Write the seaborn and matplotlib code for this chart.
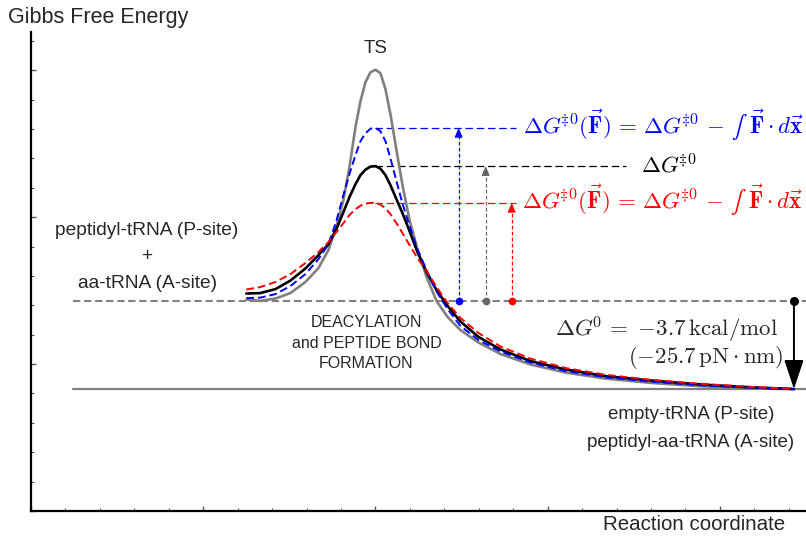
import matplotlib
matplotlib.use("Agg")
import matplotlib.pyplot as plt
from matplotlib.ticker import MultipleLocator
import seaborn as sns

# ---------------- data ----------------
reaction_coord = [1.250, 1.331, 1.419, 1.506, 1.593, 1.669, 1.727, 1.773, 1.814, 1.849,
                  1.884, 1.913, 1.942, 1.971, 2.000, 2.029, 2.058, 2.087, 2.122, 2.157,
                  2.198, 2.244, 2.297, 2.355, 2.419, 2.494, 2.599, 2.727, 2.901, 3.105,
                  3.337, 3.599, 3.890, 4.180, 4.430]

g_gray = [1.439, 1.430, 1.446, 1.483, 1.558, 1.653, 1.776, 1.935, 2.116, 2.340,
          2.612, 2.789, 2.918, 2.986, 3.003, 2.980, 2.871, 2.701, 2.456, 2.218,
          1.980, 1.782, 1.592, 1.429, 1.320, 1.231, 1.146, 1.068, 0.997, 0.942,
          0.901, 0.872, 0.849, 0.835, 0.830]

g_black = [1.480, 1.483, 1.510, 1.568, 1.650, 1.741, 1.816, 1.918, 2.034, 2.136,
           2.224, 2.286, 2.323, 2.344, 2.347, 2.330, 2.286, 2.218, 2.122, 2.027,
           1.905, 1.762, 1.626, 1.503, 1.395, 1.289, 1.184, 1.099, 1.020, 0.963,
           0.918, 0.888, 0.861, 0.842, 0.830]

g_blue = [1.449, 1.452, 1.476, 1.531, 1.612, 1.714, 1.816, 1.973, 2.150, 2.293,
          2.422, 2.517, 2.571, 2.602, 2.607, 2.585, 2.517, 2.401, 2.245, 2.092,
          1.939, 1.782, 1.639, 1.493, 1.374, 1.259, 1.163, 1.085, 1.010, 0.952,
          0.910, 0.880, 0.855, 0.839, 0.830]

g_red = [1.507, 1.524, 1.558, 1.612, 1.687, 1.762, 1.830, 1.898, 1.959, 2.014,
         2.054, 2.078, 2.092, 2.097, 2.097, 2.085, 2.061, 2.020, 1.959, 1.891,
         1.810, 1.721, 1.633, 1.524, 1.415, 1.313, 1.211, 1.119, 1.037, 0.973,
         0.927, 0.893, 0.865, 0.845, 0.830]

reactant_level = 1.432
product_level = 0.830
level_x = [0.244, 4.5]

ts_x = 2.0
peak_blue = max(g_blue)
peak_black = max(g_black)
peak_red = max(g_red)

formula = (r'$\Delta G^{\!\!\ddagger\!0}(\vec{\mathbf{F}}) \,=\, \Delta G^{\!\!\ddagger\!0}'
           '\\,-\\, \u222b\\,\\, \\vec{\\mathbf{F}} \\cdot d\\vec{\\mathbf{x}}$')
dg_label = r'$\Delta G^{\!\!\ddagger\!0}$'
dg0_line1 = r'$\Delta G^{\!0}\, =\ {-3.7}\,\mathrm{kcal/mol}$'
dg0_line2 = r'$({-25.7}\,\mathrm{pN}\cdot\mathrm{nm})$'

# ---------------- style ----------------
sns.set_style("white")
plt.rcParams['font.family'] = ['Liberation Sans', 'DejaVu Sans']
plt.rcParams['mathtext.fontset'] = 'cm'

fig = plt.figure(figsize=(8.06, 5.37), dpi=100)
ax = fig.add_axes([31 / 806, 26 / 537, 775 / 806, 479 / 537])

GRAY = '#808080'

# energy levels
ax.plot(level_x, [reactant_level] * 2, color=GRAY, lw=1.5, ls=(0, (3.5, 1.8)), zorder=1)
ax.plot(level_x, [product_level] * 2, color=GRAY, lw=1.6, zorder=1)

# curves
sns.lineplot(x=reaction_coord, y=g_gray, ax=ax, color=GRAY, lw=1.9, sort=False, estimator=None, zorder=3)
sns.lineplot(x=reaction_coord, y=g_black, ax=ax, color='black', lw=1.9, sort=False, estimator=None, zorder=4)
sns.lineplot(x=reaction_coord, y=g_blue, ax=ax, color='blue', lw=1.4, ls=(0, (4, 2)), sort=False, estimator=None, zorder=5)
sns.lineplot(x=reaction_coord, y=g_red, ax=ax, color='red', lw=1.4, ls=(0, (4, 2)), sort=False, estimator=None, zorder=6)

# horizontal dashed lines from the peaks
ax.plot([ts_x, 2.814], [peak_blue] * 2, color='blue', lw=0.9, ls=(0, (6, 3)), zorder=2)
ax.plot([ts_x, 3.453], [peak_black] * 2, color='black', lw=0.9, ls=(0, (6, 3)), zorder=2)
ax.plot([ts_x, 2.814], [peak_red] * 2, color='red', lw=0.9, ls=(0, (6, 3)), zorder=2)

# vertical barrier arrows
for xv, top, col in [(2.483, peak_blue, 'blue'), (2.640, peak_black, '#666666'), (2.791, peak_red, 'red')]:
    ax.plot([xv, xv], [reactant_level, top - 0.02], color=col, lw=0.9, ls=(0, (3, 1.8)), zorder=7)
    ax.plot([xv], [reactant_level], 'o', color=col, ms=4.5, zorder=8)
    ax.annotate('', xy=(xv, top), xytext=(xv, top - 0.04),
                arrowprops=dict(arrowstyle='-|>,head_length=0.7,head_width=0.3', color=col,
                                lw=0.8, mutation_scale=8, shrinkA=0, shrinkB=0), zorder=8)

# reaction free energy arrow
ax.plot([4.43], [reactant_level], 'o', color='black', ms=5.5, zorder=8)
ax.annotate('', xy=(4.43, product_level), xytext=(4.43, reactant_level),
            arrowprops=dict(arrowstyle='-|>,head_length=0.9,head_width=0.3', color='black',
                            lw=1.4, mutation_scale=20, shrinkA=0, shrinkB=0), zorder=8)

# texts
ax.text(ts_x, 3.15, 'TS', ha='center', va='center', fontsize=13.5)
ax.text(0.674, 1.912, 'peptidyl-tRNA (P-site)', ha='center', va='center', fontsize=13.8)
ax.text(0.674, 1.735, '+', ha='center', va='center', fontsize=13.8)
ax.text(0.674, 1.551, 'aa-tRNA (A-site)', ha='center', va='center', fontsize=13.8)
ax.text(1.948, 1.143, 'DEACYLATION\nand PEPTIDE BOND\nFORMATION', ha='center', va='center',
        fontsize=11.5, linespacing=1.45)
ax.text(3.831, 0.660, 'empty-tRNA (P-site)', ha='center', va='center', fontsize=13.5)
ax.text(3.831, 0.469, 'peptidyl-aa-tRNA (A-site)', ha='center', va='center', fontsize=13.5)

ax.text(2.859, peak_blue - 0.044, formula, color='blue', ha='left', va='baseline', fontsize=16.5)
ax.text(3.541, peak_black - 0.044, dg_label, color='black', ha='left', va='baseline', fontsize=16.5)
ax.text(2.853, peak_red - 0.044, formula, color='red', ha='left', va='baseline', fontsize=16.5)

ax.text(4.337, 1.186, dg0_line1, ha='right', va='baseline', fontsize=16.5)
ax.text(4.372, 1.005, dg0_line2, ha='right', va='baseline', fontsize=16.5)

fig.text(8 / 806, 1 - 17 / 537, 'Gibbs Free Energy', ha='left', va='center', fontsize=15.5)
fig.text(785 / 806, 1 - 525 / 537, 'Reaction coordinate', ha='right', va='center', fontsize=14.8)

# axes
ax.set_xlim(0, 4.5)
ax.set_ylim(0, 3.26)
ax.set_xlabel('')
ax.set_ylabel('')
ax.xaxis.set_major_locator(MultipleLocator(1))
ax.xaxis.set_minor_locator(MultipleLocator(0.2))
ax.yaxis.set_major_locator(MultipleLocator(1))
ax.yaxis.set_minor_locator(MultipleLocator(0.2))
ax.tick_params(which='both', direction='in', bottom=True, left=True, top=False, right=False,
               labelbottom=False, labelleft=False, color='#555555')
ax.tick_params(which='major', length=3.5, width=1.0)
ax.tick_params(which='minor', length=2.0, width=0.8)
for s in ['top', 'right']:
    ax.spines[s].set_visible(False)
for s in ['left', 'bottom']:
    ax.spines[s].set_color('black')
    ax.spines[s].set_linewidth(1.6)
ax.set_facecolor('white')

fig.savefig('out.png', dpi=100)
